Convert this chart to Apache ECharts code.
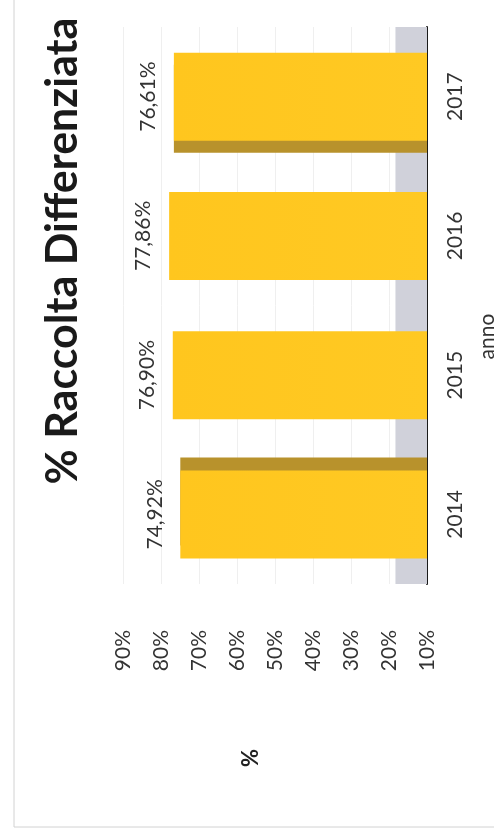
<!DOCTYPE html>
<html>
<head>
<meta charset="utf-8">
<script src="https://cdn.jsdelivr.net/npm/echarts@6/dist/echarts.min.js"></script>
<style>
html,body{margin:0;padding:0;background:#fff;}
#chart{width:494px;height:838px;}
</style>
</head>
<body>
<div id="chart"></div>
<script>
const chartTitle = '% Raccolta Differenziata';
const categories = ['2014', '2015', '2016', '2017'];
const values = [74.92, 76.90, 77.86, 76.61];
const valueAxisName = '%';
const categoryAxisName = 'anno';
const valueMin = 10, valueMax = 90, valueStep = 10;
const floorTop = 18.3;

const FONT = 'Lato, "Open Sans", sans-serif';
const sideShade = [-13, 0, 0, 12];

const chart = echarts.init(document.getElementById('chart'));
chart.setOption({
  backgroundColor: '#ffffff',
  animation: false,
  grid: { left: 123, right: 67, top: 27, bottom: 254, containLabel: false, outerBoundsMode: 'none' },
  xAxis: {
    type: 'value',
    inverse: true,
    min: valueMin, max: valueMax, interval: valueStep,
    position: 'bottom',
    axisLine: { show: false },
    axisTick: { show: false },
    axisLabel: { formatter: '{value}%', rotate: 90, margin: 46, fontFamily: FONT, fontSize: 21, color: '#333' },
    splitLine: { show: true, lineStyle: { color: '#efefef', width: 1 } }
  },
  yAxis: {
    type: 'category',
    data: categories,
    position: 'right',
    name: categoryAxisName,
    nameLocation: 'middle',
    nameGap: 50,
    nameRotate: 90,
    nameTextStyle: { fontFamily: FONT, fontSize: 21, color: '#333', padding: [0, 62, 0, 0] },
    axisLine: { show: true, lineStyle: { color: '#1a1a1a', width: 2 } },
    axisTick: { show: false },
    axisLabel: { rotate: 90, margin: 18, fontFamily: FONT, fontSize: 21, color: '#333' },
    splitLine: { show: false }
  },
  graphic: [
    {
      type: 'rect',
      shape: { x: 14, y: -5, width: 500, height: 832 },
      style: { fill: 'none', stroke: '#d2d2d2', lineWidth: 1 },
      silent: true
    },
    {
      type: 'text',
      x: 63, y: 251,
      rotation: Math.PI / 2,
      style: {
        text: chartTitle,
        fontFamily: FONT, fontSize: 43, fontWeight: 'bold',
        fill: '#1a1a1a', align: 'center', verticalAlign: 'middle'
      },
      silent: true
    },
    {
      type: 'text',
      x: 251, y: 758,
      rotation: Math.PI / 2,
      style: {
        text: valueAxisName,
        fontFamily: FONT, fontSize: 22, fontWeight: 'bold',
        fill: '#222', align: 'center', verticalAlign: 'middle'
      },
      silent: true
    }
  ],
  series: [{
    type: 'bar',
    barWidth: 88,
    z: 3,
    data: values.map((v, i) => ({
      value: v,
      itemStyle: {
        shadowColor: '#b8922c', shadowBlur: 0, shadowOffsetX: 0, shadowOffsetY: sideShade[i]
      }
    })),
    itemStyle: {
      color: new echarts.graphic.LinearGradient(0, 0, 1, 0, [
        { offset: 0, color: '#FFC61E' },
        { offset: 1, color: '#FFC923' }
      ])
    },
    label: {
      show: true,
      position: 'left',
      distance: 15,
      rotate: 90,
      align: 'center',
      verticalAlign: 'bottom',
      fontFamily: FONT, fontSize: 21, color: '#333',
      formatter: p => p.value.toFixed(2).replace('.', ',') + '%'
    },
    markArea: {
      silent: true,
      z: 1,
      itemStyle: { color: '#d0d1da' },
      data: [[{ xAxis: valueMin }, { xAxis: floorTop }]]
    }
  }]
});
</script>
</body>
</html>
